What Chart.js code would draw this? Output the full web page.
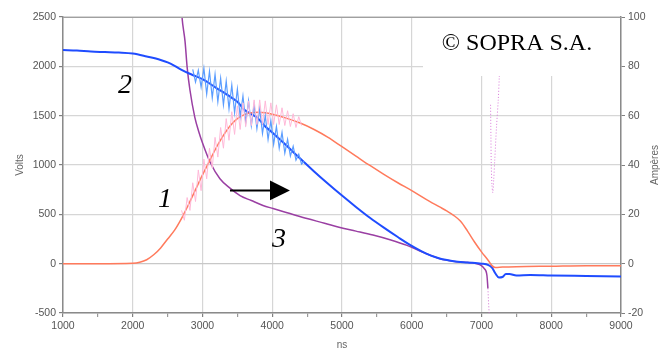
<!DOCTYPE html>
<html><head><meta charset="utf-8">
<script src="https://cdn.jsdelivr.net/npm/chart.js@4/dist/chart.umd.min.js"></script>
<style>html,body{margin:0;padding:0;background:#fff}canvas{display:block}</style>
</head><body>
<canvas id="c" width="671" height="348"></canvas>
<script>
// ---- Data (ns on x) ----
const xTicks = [1000,2000,3000,4000,5000,6000,7000,8000,9000];
const voltTicks = [-500,0,500,1000,1500,2000,2500];
const ampTicks = [-20,0,20,40,60,80,100];

// Curve 2 : voltage (V), smoothed
const blueNs = [1000,1200,1400,1600,1800,2000,2200,2400,2500,2600,2700,2800,2900,3000,3200,3400,3500,3600,3800,3900,4000,4200,4400,4600,4800,5000,5200,5400,5600,5800,6000,6200,6400,6600,6800,7000,7100,7150,7200,7250,7300,7350,7400,7500,7700,8000,8500,9000];
const blueV  = [2165,2160,2150,2145,2140,2130,2100,2065,2040,2005,1965,1930,1900,1870,1780,1690,1640,1560,1470,1390,1330,1200,1065,935,810,690,575,465,365,270,180,105,52,25,12,0,-15,-40,-100,-140,-135,-105,-105,-120,-115,-120,-125,-130];

// Curve 2 : raw voltage (V) with oscillation
const blueRawNs = [2860,2900,2940,2980,3020,3060,3100,3140,3180,3220,3260,3300,3340,3380,3420,3460,3500,3540,3580,3620,3660,3700,3740,3780,3820,3860,3900,3940,3980,4020,4060,4100,4140,4180,4220,4260,4300,4340,4380,4420,4460];
const blueRawV  = [1970,1840,1960,1790,1980,1720,1950,1680,1920,1640,1880,1610,1850,1570,1810,1530,1770,1490,1700,1430,1650,1400,1610,1370,1570,1320,1500,1260,1450,1210,1390,1170,1330,1120,1260,1090,1190,1050,1110,1010,1040];

// Curve 1 : current (A), smoothed
const orangeNs = [1000,1500,2000,2100,2200,2300,2400,2500,2600,2700,2800,2900,3000,3100,3200,3300,3400,3500,3600,3700,3800,3900,4000,4200,4400,4600,4800,5000,5200,5400,5600,5800,6000,6200,6400,6500,6600,6700,6800,6900,7000,7100,7150,7200,7300,7500,8000,8500,9000];
const orangeA  = [0,0,0.2,0.6,1.6,3.6,6.4,10,13.6,18.4,24,30,36,41.6,47.2,52,56,58.8,60.4,61.2,61.4,61.2,60.6,59,57,54.4,51.2,47.4,43.6,39.8,36.2,32.8,29.6,26.2,23,21.4,19.6,17.2,13.2,8.8,4.8,1.2,-0.8,-1.6,-1.4,-1.2,-1,-0.8,-0.8];

// Curve 1 : raw current (A) with oscillation
const pinkNs = [2700,2740,2780,2820,2860,2900,2940,2980,3020,3060,3100,3140,3180,3220,3260,3300,3340,3380,3420,3460,3500,3540,3580,3620,3660,3700,3740,3780,3820,3860,3900,3940,3980,4020,4060,4100,4140,4180,4220,4260,4300,4340,4380,4420];
const pinkA  = [21.6,17.6,26.8,21.6,32.8,25.2,38.0,29.6,42.4,34.4,46.8,38.8,51.2,43.2,55.2,46.8,58.8,50.0,61.6,52.4,64.0,54.4,65.2,55.6,66.0,56.0,66.4,56.4,66.4,56.4,66.0,56.4,65.2,56.4,64.4,56.4,63.2,56.0,62.0,55.6,60.8,55.2,59.6,56.0];

// Curve 3 (V scale)
const purpleNs = [2680,2706,2750,2780,2820,2890,2950,3007,3108,3250,3394,3538,3700,3867,4011,4254,4498,4750,4971,5200,5444,5700,5932,6161,6405,6649,6935,7000,7040,7078,7092];
const purpleV  = [2800,2500,2250,1990,1760,1483,1330,1210,1030,860,765,690,640,590,559,508,457,410,366,330,290,240,185,115,50,20,0,-20,-50,-120,-250];
const purpleDropNs = [7092,7098,7104,7110];
const purpleDropV  = [-250,-350,-430,-500];
const purpleRiseNs = [7130,7135,7140,7150,7162,7175,7190,7215,7240,7255,7275,7300];
const purpleRiseV  = [1610,1300,1000,800,720,850,1050,1385,1656,1893,2250,2600];

// Annotations (data units)
const curveLabels = [{t:'1', ns:2462, v:650},{t:'2', ns:1889, v:1808},{t:'3', ns:4097, v:244}];
const arrow = {fromNs:3394, baseNs:3968, tipNs:4254, v:742, headV:100};

const pts = (xs, ys) => xs.map((x,i)=>({x, y: ys[i]}));

const deco = {
  id:'deco',
  afterDatasetsDraw(chart){
    const {ctx, chartArea:a, scales} = chart;
    const X = v=>scales.x.getPixelForValue(v), Y = v=>scales.y.getPixelForValue(v);
    ctx.save();
    // copyright box
    ctx.fillStyle = '#fff';
    ctx.fillRect(a.left + 360, a.top + 1, a.right - a.left - 361, 58);
    ctx.fillStyle = '#000';
    ctx.font = '24px "Liberation Serif", "Times New Roman", serif';
    ctx.textAlign = 'center'; ctx.textBaseline = 'alphabetic';
    ctx.fillText('© SOPRA S.A.', a.left + 454, a.top + 33);
    // top border
    ctx.strokeStyle = '#a0a0a0'; ctx.lineWidth = 1;
    ctx.beginPath(); ctx.moveTo(a.left, a.top + 0.5); ctx.lineTo(a.right, a.top + 0.5); ctx.stroke();
    // curve labels
    ctx.font = 'italic 28px "Liberation Serif", "Times New Roman", serif';
    ctx.textBaseline = 'middle';
    curveLabels.forEach(l => ctx.fillText(l.t, X(l.ns), Y(l.v)));
    // arrow
    ctx.strokeStyle = '#000'; ctx.lineWidth = 2;
    ctx.beginPath(); ctx.moveTo(X(arrow.fromNs), Y(arrow.v)); ctx.lineTo(X(arrow.baseNs), Y(arrow.v)); ctx.stroke();
    ctx.beginPath();
    ctx.moveTo(X(arrow.baseNs), Y(arrow.v + arrow.headV));
    ctx.lineTo(X(arrow.tipNs), Y(arrow.v));
    ctx.lineTo(X(arrow.baseNs), Y(arrow.v - arrow.headV));
    ctx.closePath(); ctx.fill();
    ctx.restore();
  },
  afterDraw(chart){
    const {ctx, chartArea:a} = chart;
    ctx.save();
    ctx.fillStyle = '#666';
    ctx.font = '10px "Liberation Sans", Arial, sans-serif';
    ctx.textAlign = 'center'; ctx.textBaseline = 'middle';
    const my = (a.top + a.bottom)/2;
    ctx.save(); ctx.translate(20, my); ctx.rotate(-Math.PI/2); ctx.fillText('Volts', 0, 0); ctx.restore();
    ctx.save(); ctx.translate(655, my); ctx.rotate(-Math.PI/2); ctx.fillText('Ampères', 0, 0); ctx.restore();
    ctx.fillText('ns', (a.left + a.right)/2, 345);
    ctx.restore();
  }
};

const tickFont = {family:'"Liberation Sans", Arial, sans-serif', size:10.5};
new Chart(document.getElementById('c'), {
  type:'line',
  data:{datasets:[
    {data:pts(pinkNs,pinkA), yAxisID:'y1', borderColor:'#ffb8d8', borderWidth:1, pointRadius:0, tension:0},
    {data:pts(blueRawNs,blueRawV), yAxisID:'y', borderColor:'#5b9dff', borderWidth:1.2, pointRadius:0, tension:0},
    {data:pts(orangeNs,orangeA), yAxisID:'y1', borderColor:'#ff7a5c', borderWidth:1.5, pointRadius:0, cubicInterpolationMode:'monotone'},
    {data:pts(blueNs,blueV), yAxisID:'y', borderColor:'#1f4cff', borderWidth:2, pointRadius:0, cubicInterpolationMode:'monotone'},
    {data:pts(purpleNs,purpleV), yAxisID:'y', borderColor:'#9a3fa3', borderWidth:1.5, pointRadius:0, cubicInterpolationMode:'monotone'},
    {data:pts(purpleDropNs,purpleDropV), yAxisID:'y', borderColor:'#d070d0', borderWidth:1, borderDash:[1,2], pointRadius:0, tension:0},
    {data:pts(purpleRiseNs,purpleRiseV), yAxisID:'y', borderColor:'#d878d8', borderWidth:1, borderDash:[1,2], pointRadius:0, tension:0.3}
  ]},
  options:{
    responsive:false, animation:false, devicePixelRatio:1,
    layout:{padding:{top:17, left:0, right:0, bottom:0}},
    plugins:{legend:{display:false}, tooltip:{enabled:false}},
    scales:{
      x:{type:'linear', min:1000, max:9000,
        afterBuildTicks: s => { s.ticks = []; for (let v=1000; v<=9000; v+=500) s.ticks.push({value:v}); },
        ticks:{callback: v => xTicks.includes(v) ? String(v) : '', autoSkip:false, maxRotation:0, font:tickFont, color:'#555', padding:3},
        grid:{color: c => (c.tick && xTicks.includes(c.tick.value)) ? '#d6d6d6' : 'rgba(0,0,0,0)', lineWidth:1.2,
              tickColor: c => (c.tick && xTicks.includes(c.tick.value)) ? '#808080' : '#999', tickLength:4},
        border:{color:'#8a8a8a', width:1.5},
        afterFit: s => { s.height = 35; }
      },
      y:{position:'left', min:-500, max:2500,
        afterBuildTicks: s => { s.ticks = voltTicks.map(v=>({value:v})); },
        ticks:{callback: v => String(v), font:tickFont, color:'#555', padding:3},
        grid:{color: c => (c.tick && c.tick.value===0) ? '#c8c8c8' : '#d6d6d6', lineWidth:1.2, tickColor:'#808080', tickLength:4},
        border:{color:'#8a8a8a', width:1.5},
        afterFit: s => { s.width = 63; }
      },
      y1:{position:'right', min:-20, max:100,
        afterBuildTicks: s => { s.ticks = ampTicks.map(v=>({value:v})); },
        ticks:{callback: v => String(v), font:tickFont, color:'#555', padding:3},
        grid:{drawOnChartArea:false, tickColor:'#808080', tickLength:4},
        border:{color:'#8a8a8a', width:1.5},
        afterFit: s => { s.width = 50; }
      }
    }
  },
  plugins:[deco]
});
</script>
</body></html>
